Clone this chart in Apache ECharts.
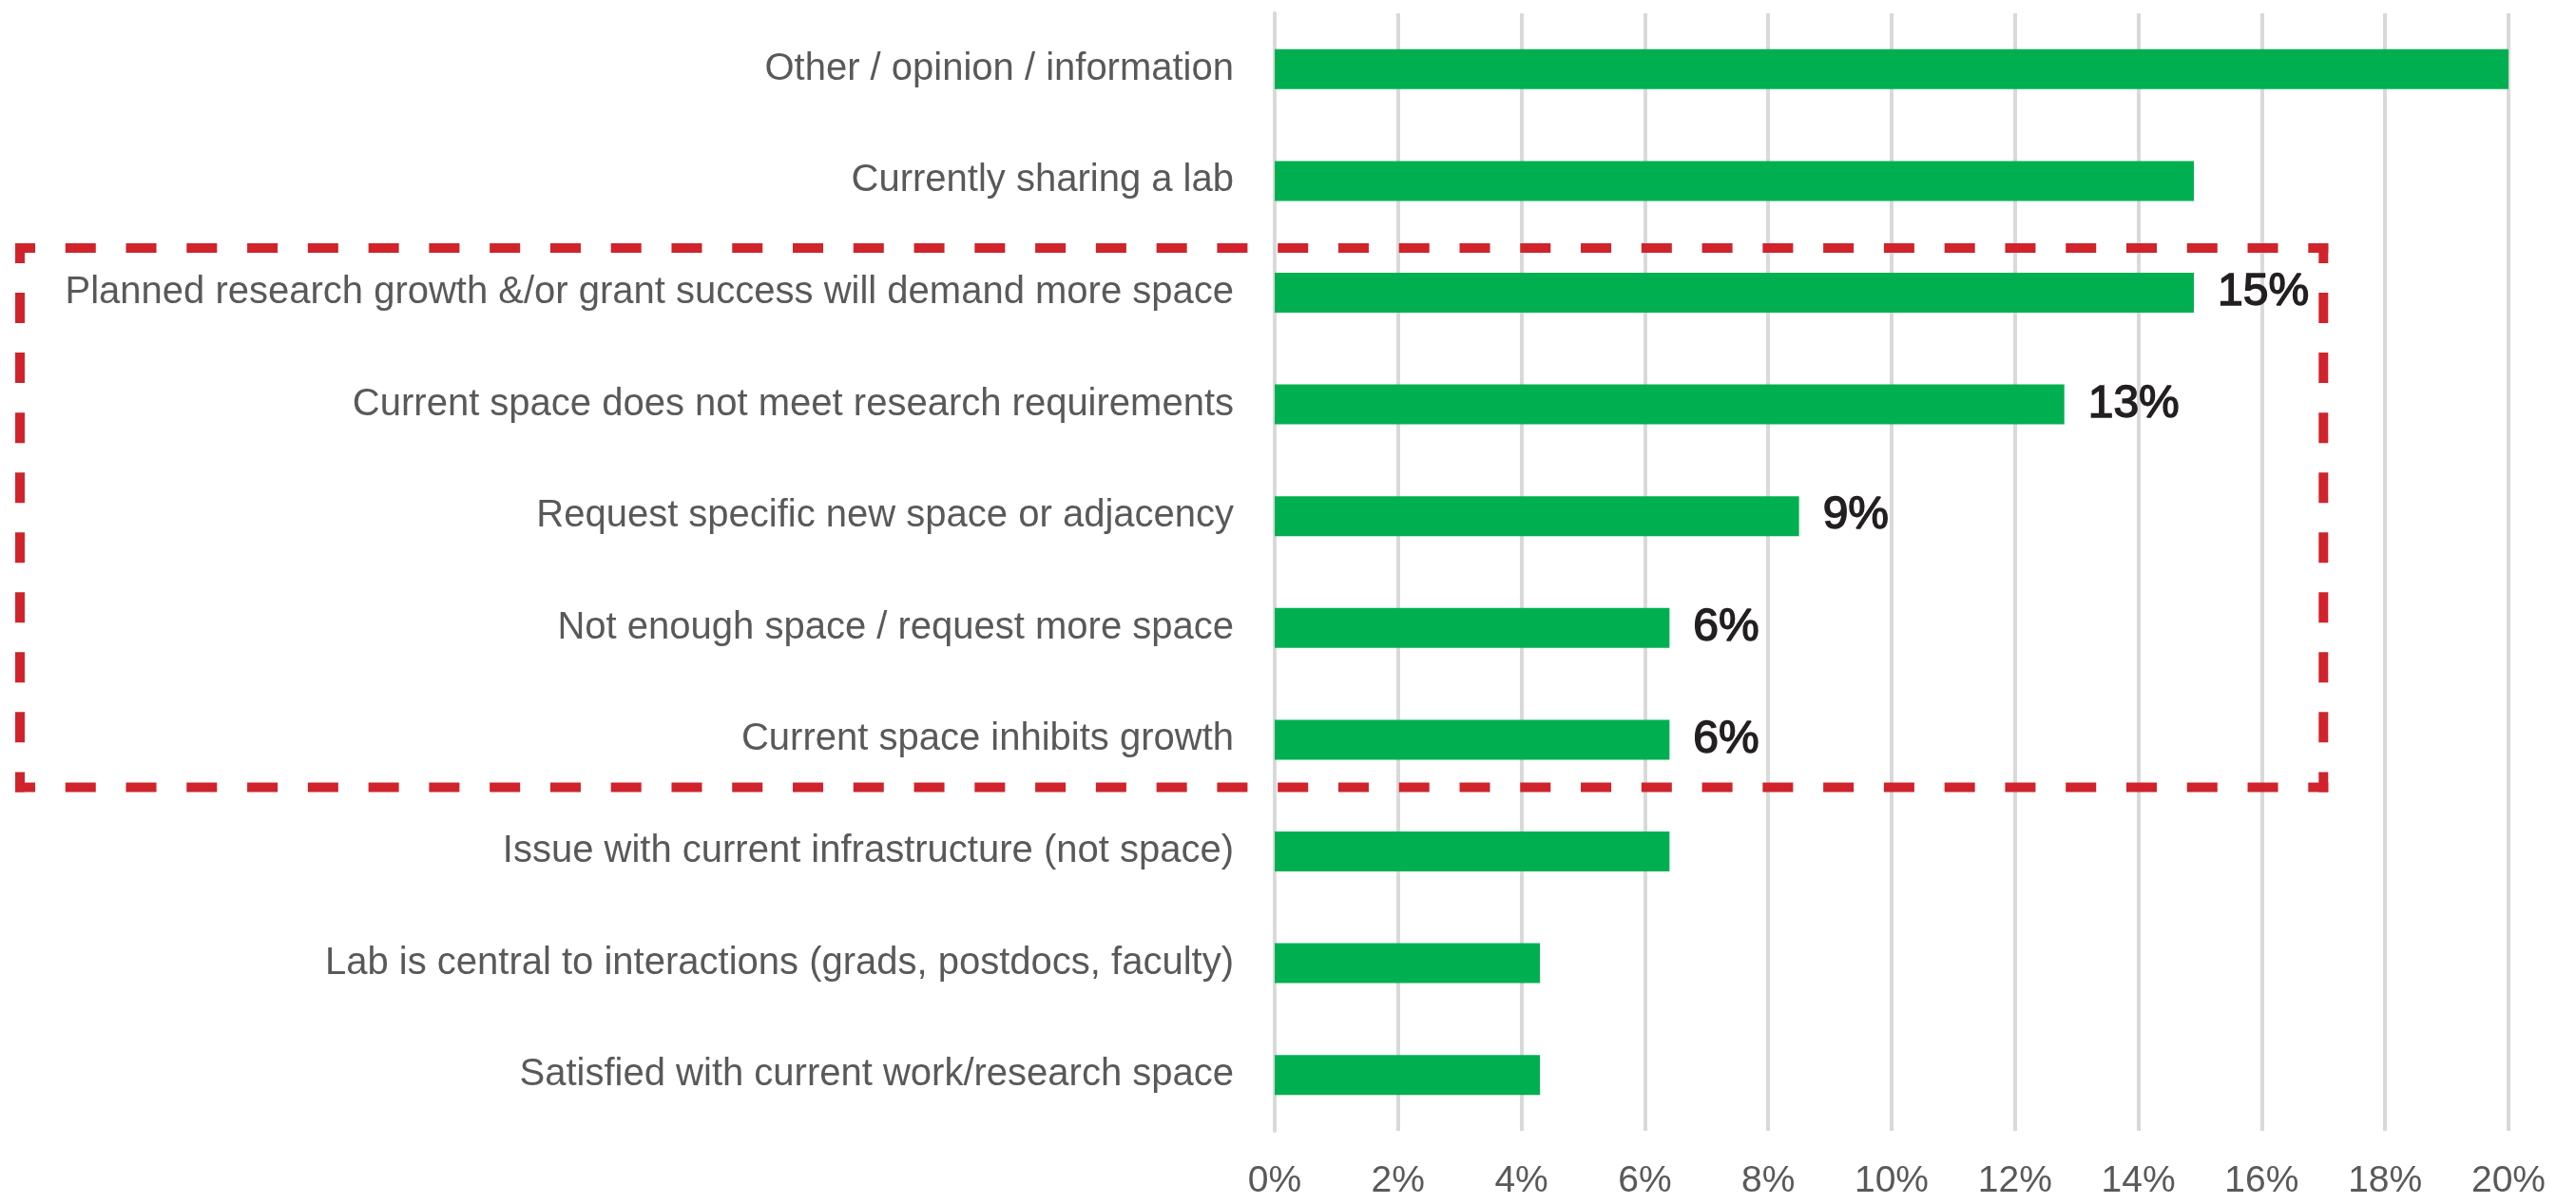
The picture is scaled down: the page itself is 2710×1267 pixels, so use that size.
<!DOCTYPE html>
<html>
<head>
<meta charset="utf-8">
<script src="https://cdn.jsdelivr.net/npm/echarts@6/dist/echarts.min.js"></script>
<style>
  html, body { margin: 0; padding: 0; background: #fff; }
  #chart { width: 2710px; height: 1267px; }
</style>
</head>
<body>
<div id="chart"></div>
<script>
  // categories, top to bottom
  var categories = [
    'Other / opinion / information',
    'Currently sharing a lab',
    'Planned research growth &/or grant success will demand more space',
    'Current space does not meet research requirements',
    'Request specific new space or adjacency',
    'Not enough space / request more space',
    'Current space inhibits growth',
    'Issue with current infrastructure (not space)',
    'Lab is central to interactions (grads, postdocs, faculty)',
    'Satisfied with current work/research space'
  ];
  // share of responses, in %
  var values = [20.0, 14.9, 14.9, 12.8, 8.5, 6.4, 6.4, 6.4, 4.3, 4.3];
  // only the highlighted rows carry a label
  var valueLabels = ['', '', '15%', '13%', '9%', '6%', '6%', '', '', ''];
  var xTicks = [0, 2, 4, 6, 8, 10, 12, 14, 16, 18, 20];

  var chart = echarts.init(document.getElementById('chart'));
  chart.setOption({
    animation: false,
    grid: { left: 1341, right: 71, top: 14, bottom: 77, containLabel: false },
    xAxis: {
      type: 'value',
      min: xTicks[0],
      max: xTicks[xTicks.length - 1],
      interval: xTicks[1] - xTicks[0],
      axisLine: { show: false },
      axisTick: { show: false },
      axisLabel: {
        formatter: '{value}%',
        fontFamily: 'Liberation Sans',
        fontSize: 39,
        color: '#595959',
        margin: 34
      },
      splitLine: { show: true, lineStyle: { color: '#d9d9d9', width: 4 } }
    },
    yAxis: {
      type: 'category',
      inverse: true,
      data: categories,
      axisLine: { show: true, lineStyle: { color: '#d9d9d9', width: 4 } },
      axisTick: { show: false },
      axisLabel: {
        fontFamily: 'Liberation Sans',
        fontSize: 40,
        color: '#595959',
        margin: 43
      }
    },
    series: [{
      type: 'bar',
      data: values,
      barWidth: 42,
      itemStyle: { color: '#00b050' },
      label: {
        show: true,
        position: 'right',
        distance: 25,
        fontFamily: 'Liberation Sans',
        fontSize: 48,
        color: '#231f20',
        textBorderColor: '#231f20',
        textBorderWidth: 1.5,
        formatter: function (p) { return valueLabels[p.dataIndex]; }
      }
    }]
  });

  // red dashed box round the highlighted rows
  function dashedSide(x1, y1, x2, y2) {
    var len = Math.sqrt((x2 - x1) * (x2 - x1) + (y2 - y1) * (y2 - y1));
    var dash = 22; // + square caps = 32 visible
    var n = Math.max(1, Math.round((len - 22 - 42) / 64));
    var gap = (len - 22 - dash * n) / (n + 1);
    return {
      type: 'line',
      shape: { x1: x1, y1: y1, x2: x2, y2: y2 },
      style: {
        stroke: '#d0232b',
        lineWidth: 10,
        lineCap: 'square',
        lineDash: [dash, gap],
        lineDashOffset: 11
      },
      z: 10
    };
  }
  var boxLeft = 21;
  var boxRight = chart.convertToPixel({ xAxisIndex: 0 }, 17);
  var boxTop = chart.convertToPixel({ yAxisIndex: 0 }, categories[2]) - 47;
  var boxBottom = chart.convertToPixel({ yAxisIndex: 0 }, categories[6]) + 50;
  chart.setOption({
    graphic: [
      dashedSide(boxLeft, boxTop, boxRight, boxTop),
      dashedSide(boxRight, boxTop, boxRight, boxBottom),
      dashedSide(boxLeft, boxBottom, boxRight, boxBottom),
      dashedSide(boxLeft, boxTop, boxLeft, boxBottom)
    ]
  });
</script>
</body>
</html>
